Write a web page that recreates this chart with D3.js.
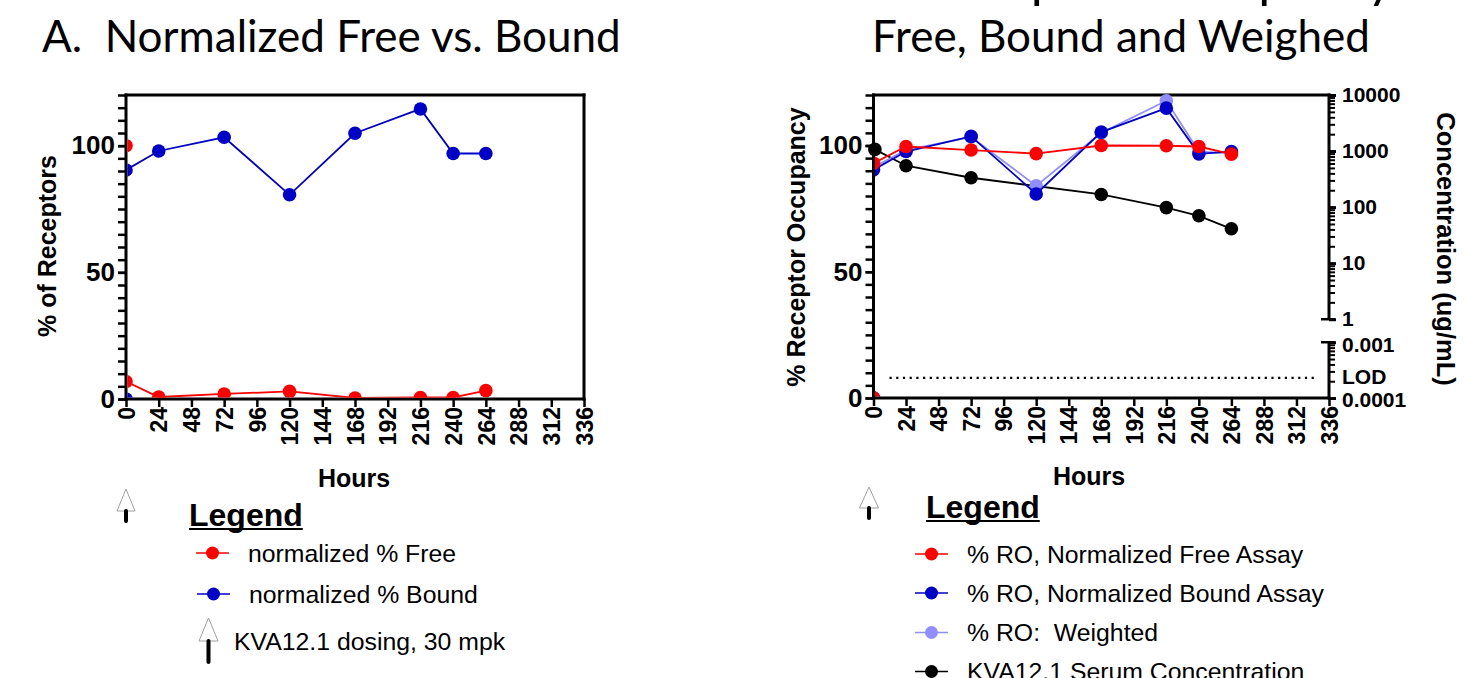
<!DOCTYPE html>
<html><head><meta charset="utf-8">
<script src="https://cdn.jsdelivr.net/npm/d3@7"></script>
<style>
html,body{margin:0;padding:0;background:#fff;}
svg{display:block;}
</style></head><body>
<svg id="chart" width="1480" height="678"></svg>
<script>
// ---------------- data ----------------
const titleA = "A.  Normalized Free vs. Bound";
const titleB1 = "B.  Receptor Occupancy";
const titleB2 = "Free, Bound and Weighed";
const xTitle = "Hours";
const yTitleA = "% of Receptors";
const yTitleB = "% Receptor Occupancy";
const y2TitleB = "Concentration (ug/mL)";
const hourTicks = [0,24,48,72,96,120,144,168,192,216,240,264,288,312,336];
const pctMajorTicks = [0,50,100];
const pctMinorTicks = [0,5,10,15,20,25,30,35,40,45,50,55,60,65,70,75,80,85,90,95,100,105,110,115,120];

// Panel A
const hoursA = [0, 0, 24, 72, 120, 168, 216, 240, 264];
const freeA  = [100, 6.9, 0.8, 2.0, 3.0, 0.4, 0.6, 0.6, 3.3];
const boundA = [0, 90.4, 97.9, 103.3, 80.6, 104.9, 114.5, 96.9, 96.9];

// Panel B
const hoursB     = [0, 0, 24, 72, 120, 168, 216, 240, 264];
const roFree     = [0, 93.0, 99.6, 98.2, 96.8, 100.0, 99.9, 99.6, 96.6];
const roBound    = [0, 90.4, 97.6, 103.6, 80.8, 105.3, 114.8, 96.7, 97.6];
const roWeighted = [0, 91.5, 98.2, 103.4, 84.0, 105.0, 117.7, 97.6, 97.0];
const serumHours = [1, 24, 72, 168, 216, 240, 264];
const serumConc  = [1070, 547, 334, 168, 98, 70, 41];

const concMajorUpper = [1, 10, 100, 1000, 10000];
const concMajorLower = [0.0001, 0.001];
const lodValue = 0.00023;
const lodLabel = "LOD";

const legendTitle = "Legend";
const legendA = ["normalized % Free", "normalized % Bound", "KVA12.1 dosing, 30 mpk"];
const legendB = ["% RO, Normalized Free Assay", "% RO, Normalized Bound Assay", "% RO:  Weighted", "KVA12.1 Serum Concentration"];

// ---------------- styles ----------------
const RED = "#ff0000", BLUE = "#0000c8", LIGHT = "#8f8fff", BLACK = "#000000";
const ARIAL = "'Liberation Sans', Arial, sans-serif";
const TITLEF = "Lato, 'Open Sans', sans-serif";

const svg = d3.select("#chart");
svg.append("rect").attr("width",1480).attr("height",678).attr("fill","#fff");

function zip(h, v){ return h.map((d,i)=>({h:d, v:v[i]})); }

function drawPanel(P){
  const g = svg.append("g");
  const x = d3.scaleLinear().domain([0,336]).range([P.x0, P.x1]);
  const y = d3.scaleLinear().domain([0,120]).range([P.yBot, P.yTop]);

  const minor = g.append("g").attr("transform",`translate(${P.x0},0)`)
    .call(d3.axisLeft(y).tickValues(pctMinorTicks).tickSize(8).tickFormat(""));
  minor.select(".domain").remove();
  minor.selectAll("line").attr("stroke","#000").attr("stroke-width",2.5);
  const major = g.append("g").attr("transform",`translate(${P.x0},0)`)
    .call(d3.axisLeft(y).tickValues(pctMajorTicks).tickSize(8).tickPadding(P.yPad));
  major.select(".domain").remove();
  major.selectAll("line").attr("stroke","#000").attr("stroke-width",2.5);
  major.selectAll("text").attr("font-family",ARIAL).attr("font-weight","bold")
    .attr("font-size",P.yLabelSize).attr("fill","#000");

  const xa = g.append("g").attr("transform",`translate(0,${P.yBot})`)
    .call(d3.axisBottom(x).tickValues(hourTicks).tickSize(8));
  xa.select(".domain").remove();
  xa.selectAll("line").attr("stroke","#000").attr("stroke-width",2.5);
  xa.selectAll("text").attr("transform","rotate(-90)").attr("x",-8).attr("y",0)
    .attr("dy","0.36em").style("text-anchor","end")
    .attr("font-family",ARIAL).attr("font-weight","bold").attr("font-size",23).attr("fill","#000");

  g.append("line").attr("x1",P.x0).attr("x2",P.x0).attr("y1",P.yTop-1.5).attr("y2",P.yBot+1.5)
    .attr("stroke","#000").attr("stroke-width",3);
  g.append("line").attr("x1",P.x0-1.5).attr("x2",P.x1+1.5).attr("y1",P.yBot).attr("y2",P.yBot)
    .attr("stroke","#000").attr("stroke-width",3);
  g.append("line").attr("x1",P.x0-1.5).attr("x2",P.x1+1.5).attr("y1",P.yTop).attr("y2",P.yTop)
    .attr("stroke","#000").attr("stroke-width",3);
  if (P.rightFrame) {
    g.append("line").attr("x1",P.x1).attr("x2",P.x1).attr("y1",P.yTop-1.5).attr("y2",P.yBot+1.5)
      .attr("stroke","#000").attr("stroke-width",3);
  }

  g.append("text").attr("x",P.xTitleX).attr("y",P.xTitleY).attr("text-anchor","middle")
    .attr("font-family",ARIAL).attr("font-weight","bold").attr("font-size",25).text(xTitle);
  g.append("text").attr("transform",`translate(${P.yTitleX},${P.yTitleY}) rotate(-90)`)
    .attr("text-anchor","middle").attr("font-family",ARIAL).attr("font-weight","bold")
    .attr("font-size",25).text(P.yTitle);

  const cid = "clip" + P.id;
  svg.append("clipPath").attr("id",cid).append("rect")
    .attr("x",P.x0+1.5).attr("y",P.yTop-40).attr("width",P.x1-P.x0+40).attr("height",P.yBot-1.5-(P.yTop-40));
  return {g, x, y, cid};
}

function drawSeries(ctx, data, color, yScale, clip){
  const s = ctx.g.append("g");
  if (clip) s.attr("clip-path",`url(#${ctx.cid})`);
  const line = d3.line().x(d=>ctx.x(d.h)).y(d=>yScale(d.v));
  s.append("path").datum(data).attr("d",line).attr("fill","none")
    .attr("stroke",color).attr("stroke-width",1.8);
  s.selectAll("circle").data(data).join("circle")
    .attr("cx",d=>ctx.x(d.h)).attr("cy",d=>yScale(d.v)).attr("r",6.8).attr("fill",color);
}

// ---------------- Panel A ----------------
const A = drawPanel({id:"A", x0:126, x1:584, yTop:95, yBot:399, yLabelSize:26, yPad:3, rightFrame:true,
  xTitleX:354, xTitleY:487, yTitleX:56, yTitleY:246, yTitle:yTitleA});
drawSeries(A, zip(hoursA, boundA), BLUE, A.y, true);
drawSeries(A, zip(hoursA, freeA), RED, A.y, true);

// ---------------- Panel B ----------------
const PB = {id:"B", x0:873.5, x1:1329, yTop:95, yBot:398, yLabelSize:26, yPad:3, rightFrame:false,
  xTitleX:1089, xTitleY:485, yTitleX:805, yTitleY:247, yTitle:yTitleB};
const B = drawPanel(PB);
const H = PB.yBot - PB.yTop;
const yUp = d3.scaleLog().domain([1,10000]).range([PB.yBot - 0.26*H, PB.yTop]);
const yLo = d3.scaleLog().domain([0.0001,0.001]).range([PB.yBot, PB.yBot - 0.184*H]);

const ra = B.g.append("g");
ra.append("line").attr("x1",PB.x1).attr("x2",PB.x1).attr("y1",yUp(1)).attr("y2",PB.yTop-1.5)
  .attr("stroke","#000").attr("stroke-width",3);
ra.append("line").attr("x1",PB.x1).attr("x2",PB.x1).attr("y1",PB.yBot+1.5).attr("y2",yLo(0.001))
  .attr("stroke","#000").attr("stroke-width",3);
[yUp(1), yLo(0.001)].forEach(v=>{
  ra.append("line").attr("x1",PB.x1-8).attr("x2",PB.x1+6).attr("y1",v).attr("y2",v)
    .attr("stroke","#000").attr("stroke-width",2.5);
});
function minorLog(scale){
  const [a,b] = scale.domain();
  return scale.ticks().filter(t=>t>a && t<b);
}
const upMinor = ra.append("g").attr("transform",`translate(${PB.x1},0)`)
  .call(d3.axisRight(yUp).tickValues(minorLog(yUp)).tickSize(6).tickFormat(""));
const loMinor = ra.append("g").attr("transform",`translate(${PB.x1},0)`)
  .call(d3.axisRight(yLo).tickValues(minorLog(yLo)).tickSize(6).tickFormat(""));
const upMajor = ra.append("g").attr("transform",`translate(${PB.x1},0)`)
  .call(d3.axisRight(yUp).tickValues(concMajorUpper).tickSize(7).tickPadding(6).tickFormat(d=>String(d)));
const loMajor = ra.append("g").attr("transform",`translate(${PB.x1},0)`)
  .call(d3.axisRight(yLo).tickValues(concMajorLower).tickSize(7).tickPadding(6).tickFormat(d=>String(d)));
[upMinor, loMinor, upMajor, loMajor].forEach(a=>{
  a.select(".domain").remove();
  a.selectAll("line").attr("stroke","#000").attr("stroke-width",2);
  a.selectAll("text").attr("font-family",ARIAL).attr("font-weight","bold")
    .attr("font-size",21).attr("fill","#000");
});
[upMajor, loMajor].forEach(a=>a.selectAll("line").attr("stroke-width",3));
loMajor.selectAll("text").attr("dy","0.42em");
ra.append("text").attr("x",PB.x1+13).attr("y",yLo(lodValue)).attr("dy","0.3em")
  .attr("font-family",ARIAL).attr("font-weight","bold").attr("font-size",21).text(lodLabel);
ra.append("text").attr("transform",`translate(1437,249) rotate(90)`).attr("text-anchor","middle")
  .attr("font-family",ARIAL).attr("font-weight","bold").attr("font-size",25.5).text(y2TitleB);

B.g.append("line").attr("x1",PB.x0+16).attr("x2",PB.x1-11)
  .attr("y1",yLo(lodValue)).attr("y2",yLo(lodValue))
  .attr("stroke","#000").attr("stroke-width",2.2).attr("stroke-dasharray","2.2,4.5");

drawSeries(B, zip(serumHours, serumConc), BLACK, yUp, false);
drawSeries(B, zip(hoursB, roWeighted), LIGHT, B.y, true);
drawSeries(B, zip(hoursB, roBound), BLUE, B.y, true);
drawSeries(B, zip(hoursB, roFree), RED, B.y, true);

// ---------------- Titles ----------------
svg.append("text").attr("x",42).attr("y",52).style("white-space","pre")
  .attr("font-family",TITLEF).attr("font-size",44).attr("fill","#000").text(titleA);
svg.append("text").attr("x",1121).attr("y",-3).attr("text-anchor","middle").style("white-space","pre")
  .attr("font-family",TITLEF).attr("font-size",52).attr("fill","#000").text(titleB1);
svg.append("text").attr("x",1121).attr("y",52).attr("text-anchor","middle").style("white-space","pre")
  .attr("font-family",TITLEF).attr("font-size",44).attr("fill","#000").text(titleB2);

// ---------------- Legends ----------------
function arrowIcon(cx, tipY, baseY, halfW, stemTop, stemBot){
  const g = svg.append("g");
  g.append("path").attr("d",`M${cx},${tipY} L${cx+halfW},${baseY} L${cx-halfW},${baseY} Z`)
    .attr("fill","#fff").attr("stroke","#a0a0a0").attr("stroke-width",1);
  g.append("line").attr("x1",cx).attr("x2",cx).attr("y1",stemTop).attr("y2",stemBot)
    .attr("stroke","#000").attr("stroke-width",4).attr("stroke-linecap","round");
}
function legendHeader(x, y){
  const t = svg.append("text").attr("x",x).attr("y",y).attr("font-family",ARIAL)
    .attr("font-weight","bold").attr("font-size",32).text(legendTitle);
  const w = t.node().getComputedTextLength();
  svg.append("line").attr("x1",x).attr("x2",x+w).attr("y1",y+3).attr("y2",y+3)
    .attr("stroke","#000").attr("stroke-width",2.2);
}
function legendItem(x, y, color, label, tx){
  svg.append("line").attr("x1",x).attr("x2",x+33).attr("y1",y).attr("y2",y)
    .attr("stroke",color).attr("stroke-width",1.6);
  svg.append("circle").attr("cx",x+16.5).attr("cy",y).attr("r",6.5).attr("fill",color);
  svg.append("text").attr("x",tx).attr("y",y).attr("dy","0.36em").style("white-space","pre")
    .attr("font-family",ARIAL).attr("font-size",24.8).attr("fill","#000").text(label);
}
arrowIcon(126, 489, 511, 9, 511, 521);
legendHeader(189, 526);
legendItem(196, 553, RED, legendA[0], 248);
legendItem(197, 594, BLUE, legendA[1], 249);
arrowIcon(208.5, 618, 641, 9.5, 641, 662);
svg.append("text").attr("x",234).attr("y",641).attr("dy","0.36em")
  .attr("font-family",ARIAL).attr("font-size",24.8).text(legendA[2]);

arrowIcon(869, 487, 508, 9.5, 508, 518);
legendHeader(926, 518);
legendItem(915, 554, RED, legendB[0], 967);
legendItem(915, 593, BLUE, legendB[1], 967);
legendItem(915, 632.5, LIGHT, legendB[2], 967);
legendItem(915, 671.5, BLACK, legendB[3], 967);
</script>
</body></html>
